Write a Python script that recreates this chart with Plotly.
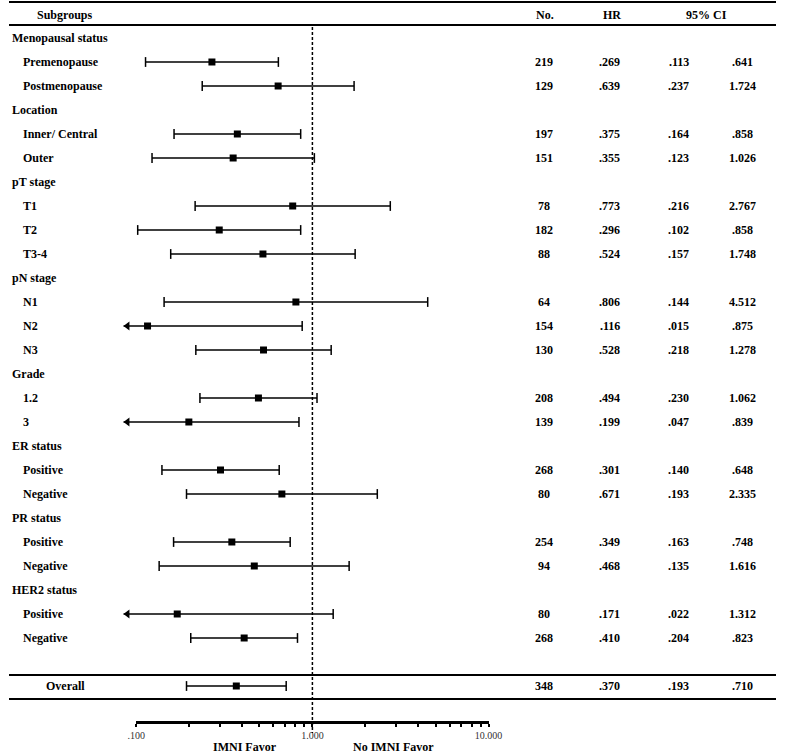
import plotly.graph_objects as go

# ---------------- data ----------------
row_labels = ["Menopausal status", "Premenopause", "Postmenopause",
              "Location", "Inner/ Central", "Outer",
              "pT stage", "T1", "T2", "T3-4",
              "pN stage", "N1", "N2", "N3",
              "Grade", "1.2", "3",
              "ER status", "Positive", "Negative",
              "PR status", "Positive", "Negative",
              "HER2 status", "Positive", "Negative"]
is_group = [True, False, False,
            True, False, False,
            True, False, False, False,
            True, False, False, False,
            True, False, False,
            True, False, False,
            True, False, False,
            True, False, False]
n_vals = [None, 219, 129, None, 197, 151, None, 78, 182, 88, None, 64, 154, 130,
          None, 208, 139, None, 268, 80, None, 254, 94, None, 80, 268]
hr_vals = [None, .269, .639, None, .375, .355, None, .773, .296, .524, None, .806, .116, .528,
           None, .494, .199, None, .301, .671, None, .349, .468, None, .171, .410]
ci_low = [None, .113, .237, None, .164, .123, None, .216, .102, .157, None, .144, .015, .218,
          None, .230, .047, None, .140, .193, None, .163, .135, None, .022, .204]
ci_high = [None, .641, 1.724, None, .858, 1.026, None, 2.767, .858, 1.748, None, 4.512, .875, 1.278,
           None, 1.062, .839, None, .648, 2.335, None, .748, 1.616, None, 1.312, .823]

overall_label = "Overall"
overall_n = 348
overall_hr = .370
overall_low = .193
overall_high = .710

tick_vals = [0.1, 1, 10]
tick_text = [".100", "1.000", "10.000"]
minor_vals = [d * m for d in (0.1, 1) for m in range(2, 10)]
favor_left = "IMNI Favor"
favor_right = "No IMNI Favor"
headers = ["Subgroups", "No.", "HR", "95% CI"]

# ---------------- layout geometry ----------------
W, H = 790, 753
AX_L, AX_R = 131, 494          # pixel extent of visible axis (0.1 .. 10)
DEC = (AX_R - AX_L) / 2.0      # pixels per decade
x_lo = -1 - AX_L / DEC
x_hi = 1 + (W - AX_R) / DEC
Y0, DY = 38, 24                # first row pixel, row spacing
y_top = -Y0 / DY
y_bot = (H - Y0) / DY
def py(px):                    # pixel row -> row units
    return (px - Y0) / DY

CLIP = 10 ** (-1 - 13 / DEC)   # display limit for truncated CIs (arrow tip)

FONT = "Liberation Serif, Times New Roman, serif"
FS = 12

def fmt(v):
    s = f"{v:.3f}"
    return s[1:] if s.startswith("0") else s

rows_y = list(range(len(row_labels)))
overall_y = len(row_labels) + 1

fig = go.Figure()

lx, ly = [], []
cap_x, cap_y = [], []
arr_x, arr_y = [], []
sq_x, sq_y = [], []
entries = [(rows_y[i], hr_vals[i], ci_low[i], ci_high[i]) for i in range(len(row_labels)) if not is_group[i]]
entries.append((overall_y, overall_hr, overall_low, overall_high))
for y, hr, lo, hi in entries:
    left = lo if lo >= 0.1 else CLIP
    lx += [left, hi, None]
    ly += [y, y, None]
    if lo >= 0.1:
        cap_x.append(lo); cap_y.append(y)
    else:
        arr_x.append(CLIP * 10 ** (4 / DEC)); arr_y.append(y)
    cap_x.append(hi); cap_y.append(y)
    sq_x.append(hr); sq_y.append(y)

fig.add_trace(go.Scatter(x=lx, y=ly, mode="lines", line=dict(color="black", width=1.5),
                         hoverinfo="skip", showlegend=False))
fig.add_trace(go.Scatter(x=cap_x, y=cap_y, mode="markers",
                         marker=dict(symbol="line-ns", size=7, line=dict(color="black", width=1.5)),
                         hoverinfo="skip", showlegend=False))
fig.add_trace(go.Scatter(x=arr_x, y=arr_y, mode="markers",
                         marker=dict(symbol="triangle-left", size=8, color="black"),
                         hoverinfo="skip", showlegend=False))
fig.add_trace(go.Scatter(x=sq_x, y=sq_y, mode="markers",
                         marker=dict(symbol="square", size=7, color="black"),
                         hoverinfo="skip", showlegend=False))

# dummy trace so the visible scale axis is drawn
fig.add_trace(go.Scatter(x=[0.1, 10], y=[None, None], xaxis="x2", yaxis="y",
                         mode="markers", showlegend=False, hoverinfo="skip"))

# reference line at HR = 1
fig.add_shape(type="line", x0=1, x1=1, y0=py(27), y1=py(733), xref="x", yref="y",
              line=dict(color="black", width=1.5, dash="3px,2px"))

# horizontal rules
for px, w in [(2, 2), (25, 2), (675, 2), (699, 2)]:
    fig.add_shape(type="line", x0=0, x1=1, xref="paper", y0=py(px), y1=py(px), yref="y",
                  line=dict(color="black", width=w))

ann = []
bold = dict(family=FONT, size=FS, color="black")

def text(s, xpx, y, anchor="left"):
    ann.append(dict(text="<b>" + s + "</b>", x=xpx / W, xref="paper", y=y, yref="y", showarrow=False,
                    xanchor=anchor, yanchor="middle", font=bold))

COL_N, COL_HR, COL_LO, COL_HI = 551, 619, 690, 756
text(headers[0], 27, py(15))
text(headers[1], 552, py(15), "center")
text(headers[2], 621, py(15), "center")
text(headers[3], 718, py(15), "center")

for i, lab in enumerate(row_labels):
    y = rows_y[i]
    if is_group[i]:
        text(lab, 1, y)
    else:
        text(lab, 12, y)
        text(str(n_vals[i]), COL_N, y, "center")
        text(fmt(hr_vals[i]), COL_HR, y, "center")
        text(fmt(ci_low[i]), COL_LO, y, "center")
        text(fmt(ci_high[i]), COL_HI, y, "center")

text(overall_label, 36, overall_y)
text(str(overall_n), COL_N, overall_y, "center")
text(fmt(overall_hr), COL_HR, overall_y, "center")
text(fmt(overall_low), COL_LO, overall_y, "center")
text(fmt(overall_high), COL_HI, overall_y, "center")

text(favor_left, 243, py(747), "center")
text(favor_right, 396, py(747), "center")

fig.update_layout(
    width=W, height=H,
    margin=dict(l=0, r=0, t=0, b=0),
    paper_bgcolor="white", plot_bgcolor="rgba(0,0,0,0)",
    showlegend=False,
    annotations=ann,
    xaxis=dict(type="log", range=[x_lo, x_hi], visible=False, domain=[0, 1], fixedrange=True),
    yaxis=dict(range=[y_bot, y_top], visible=False, domain=[0, 1], fixedrange=True),
    xaxis2=dict(type="log", range=[-1, 1], domain=[AX_L / W, AX_R / W], anchor="free",
                position=1 - 722 / H, showline=True, linecolor="black", linewidth=2.5,
                ticks="outside", ticklen=3, tickwidth=1.5, tickcolor="black",
                tickvals=tick_vals, ticktext=tick_text, showgrid=False, zeroline=False,
                tickfont=dict(family=FONT, size=10, color="#333333"),
                minor=dict(ticks="outside", ticklen=3, tickwidth=1.5, tickcolor="black",
                           tickvals=minor_vals, showgrid=False),
                fixedrange=True),
)

fig.write_html("out.html", config={"displayModeBar": False},
               post_script="document.body.style.margin='0';document.body.style.overflow='hidden';")
